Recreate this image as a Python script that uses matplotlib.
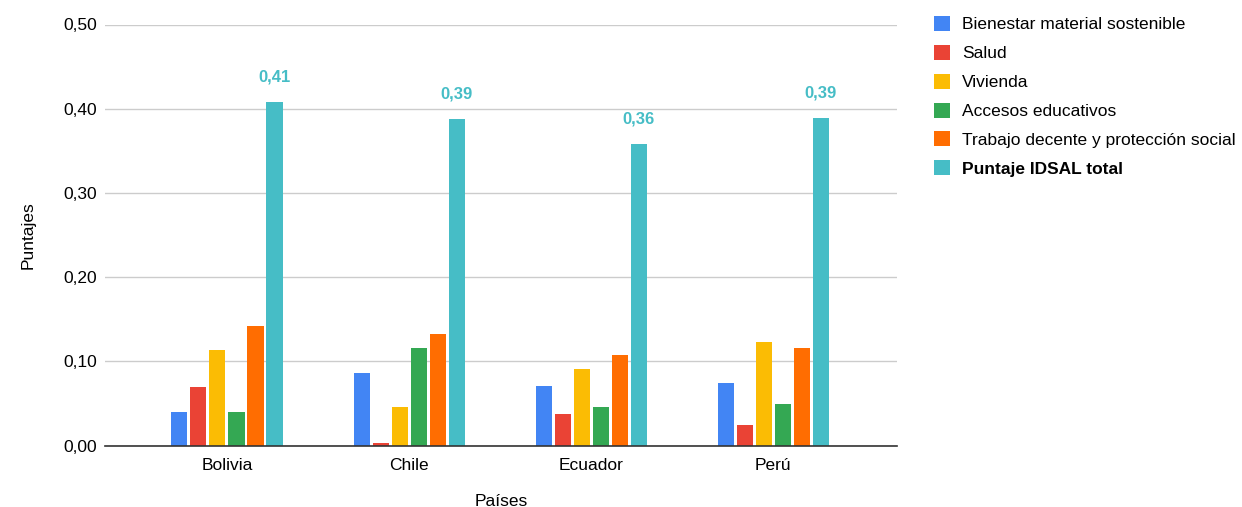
import numpy as np
import matplotlib.pyplot as plt

plt.rcParams['font.family'] = ['Liberation Sans', 'DejaVu Sans']

# Data
paises = ['Bolivia', 'Chile', 'Ecuador', 'Perú']
series = ['Bienestar material sostenible', 'Salud', 'Vivienda',
          'Accesos educativos', 'Trabajo decente y protección social',
          'Puntaje IDSAL total']
bienestar = [0.040, 0.086, 0.071, 0.074]
salud = [0.069, 0.003, 0.038, 0.024]
vivienda = [0.113, 0.046, 0.091, 0.123]
educacion = [0.040, 0.116, 0.046, 0.049]
trabajo = [0.142, 0.133, 0.108, 0.116]
idsal = [0.408, 0.388, 0.358, 0.389]
colores = ['#4285f4', '#ea4335', '#fbbc04', '#34a853', '#ff6d01', '#46bdc6']

valores = [bienestar, salud, vivienda, educacion, trabajo, idsal]

fig = plt.figure(figsize=(12.42, 5.07), dpi=100)
ax = fig.add_axes([105 / 1242, 61.5 / 507, 792 / 1242, 421 / 507])

x = np.arange(len(paises))
paso, ancho = 0.1044, 0.088
for i, (nombre, vals, col) in enumerate(zip(series, valores, colores)):
    bars = ax.bar(x + (i - 2.5) * paso, vals, ancho, color=col, label=nombre, zorder=3)
    if i == len(series) - 1:
        for b, v in zip(bars, vals):
            ax.annotate(f"{v:.2f}".replace('.', ','),
                        (b.get_x() + b.get_width() / 2, v),
                        xytext=(0, 18), textcoords='offset points',
                        ha='center', va='center', color=col,
                        fontsize=12, fontweight='bold')

ax.set_xlim(-0.67, 3.68)
ax.set_ylim(0, 0.5)
ticks = np.arange(0, 0.51, 0.1)
ax.set_yticks(ticks)
ax.set_yticklabels([f"{t:.2f}".replace('.', ',') for t in ticks])
ax.set_xticks(x)
ax.set_xticklabels(paises)
ax.tick_params(length=0, labelsize=12.5, pad=9)
ax.tick_params(axis='y', pad=6)
ax.grid(axis='y', color='#cccccc', linewidth=1, zorder=0)
for s in ['top', 'right', 'left']:
    ax.spines[s].set_visible(False)
ax.spines['bottom'].set_color('#333333')
ax.spines['bottom'].set_linewidth(1.2)
ax.spines['bottom'].set_zorder(4)

ax.set_xlabel('Países', fontsize=12.5, labelpad=15)
ax.set_ylabel('Puntajes', fontsize=12.5, labelpad=20)

leg = fig.legend(loc='upper left', bbox_to_anchor=(925 / 1242, 1 - 7 / 507),
                 frameon=False, fontsize=12.5, handlelength=0.95, handleheight=0.95,
                 handletextpad=0.7, labelspacing=0.72, borderpad=0)
leg.get_texts()[-1].set_fontweight('bold')

fig.savefig('out.png', dpi=100)
